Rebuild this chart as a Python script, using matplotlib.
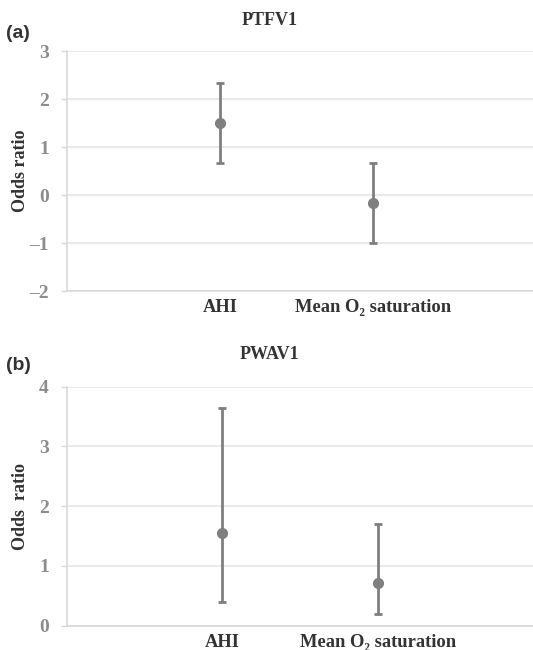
import matplotlib
matplotlib.use("Agg")
import matplotlib.pyplot as plt
import numpy as np

categories = ["AHI", "Mean O\u2082 saturation"]

ptfv1_or = [1.50, -0.16]
ptfv1_lo = [0.67, -0.99]
ptfv1_hi = [2.33, 0.67]

pwav1_or = [1.55, 0.72]
pwav1_lo = [0.40, 0.19]
pwav1_hi = [3.65, 1.70]

SERIF = ["Liberation Serif", "DejaVu Serif"]
GREY = "#7f7f7f"


def draw_panel(ax, title, tag, ylabel, vals, lo, hi, xmax, ylim, yticks, title_y, tag_y):
    x = np.arange(1, len(vals) + 1)
    vals = np.array(vals)
    err = np.vstack([vals - np.array(lo), np.array(hi) - vals])
    ax.errorbar(x, vals, yerr=err, fmt="o", color=GREY, ecolor=GREY,
                markersize=7, elinewidth=2, capsize=2.6, capthick=2, zorder=3)
    ax.set_xlim(0, xmax)
    ax.set_ylim(*ylim)
    ax.set_yticks(yticks)
    ax.set_yticklabels([str(t).replace("-", "\u2013") for t in yticks],
                       family=SERIF, fontweight="bold", fontsize=14, color="#8c8c8c")
    ax.set_xticks(x)
    ax.set_xticklabels(categories, family=SERIF, fontweight="bold", fontsize=13.3, color="#333333")
    ax.tick_params(axis="x", length=0, pad=6)
    ax.tick_params(axis="y", length=4, color="#d9d9d9", width=1, pad=9)
    ax.grid(axis="y", color="#e6e6e6", linewidth=1.2, zorder=0)
    for s in ["top", "right"]:
        ax.spines[s].set_visible(False)
    for s in ["left", "bottom"]:
        ax.spines[s].set_color("#d9d9d9")
        ax.spines[s].set_linewidth(1.2)
    ax.set_ylabel(ylabel, family=SERIF, fontweight="bold", fontsize=13,
                  color="#333333")
    ax.yaxis.set_label_coords(-0.082, 0.5)
    fig.text(0.505, title_y, title, family=SERIF, fontweight="bold", fontsize=13,
             color="#333333", ha="center", va="center")
    fig.text(0.012, tag_y, tag, fontsize=14, fontweight="bold", color="#333333",
             family=["Liberation Sans", "DejaVu Sans"], ha="left", va="center")


fig = plt.figure(figsize=(5.33, 6.5), dpi=100)
ax1 = fig.add_axes([0.1257, 0.5523, 0.8743, 0.3692])
ax2 = fig.add_axes([0.1257, 0.0374, 0.8743, 0.3676])

draw_panel(ax1, "PTFV1", "(a)", "Odds ratio", ptfv1_or, ptfv1_lo, ptfv1_hi, 3.05,
           (-2, 3), [-2, -1, 0, 1, 2, 3], 1 - 20.5 / 650, 1 - 33 / 650)
draw_panel(ax2, "PWAV1", "(b)", "Odds  ratio", pwav1_or, pwav1_lo, pwav1_hi, 3.0,
           (0, 4), [0, 1, 2, 3, 4], 1 - 355 / 650, 1 - 366 / 650)

fig.savefig("out.png", dpi=100)
